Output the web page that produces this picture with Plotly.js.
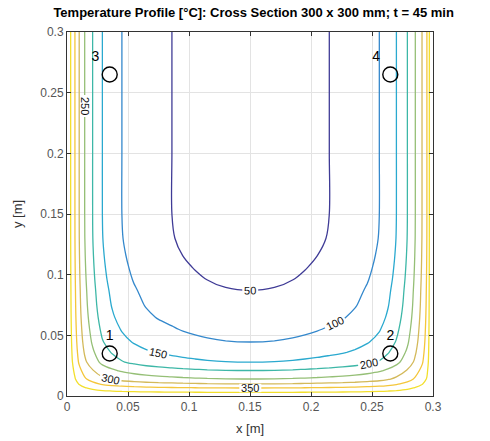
<!DOCTYPE html>
<html>
<head>
<meta charset="utf-8">
<script src="https://cdn.plot.ly/plotly-3.0.1.min.js"></script>
<style>html,body{margin:0;padding:0;background:#fff;}#chart{width:490px;height:441px;}</style>
</head>
<body>
<div id="chart"></div>
<script>
// Grid positions across the section (x, m) and temperature read along the top edge
const xNodes = [0, 0.003, 0.0065, 0.010, 0.0145, 0.021, 0.029, 0.037, 0.045, 0.055, 0.065, 0.075, 0.086, 0.095, 0.105, 0.115, 0.13, 0.15,
                0.17, 0.185, 0.195, 0.205, 0.215, 0.226, 0.236, 0.246, 0.256, 0.263, 0.270, 0.279, 0.2855, 0.291, 0.295, 0.297, 0.3];
const tAcross = [450, 400, 350, 300, 250, 200, 150, 122, 100, 82, 68, 58, 50, 43, 37, 32, 27, 25,
                 27, 32, 37, 43, 50, 58, 68, 82, 100, 122, 150, 200, 250, 300, 350, 400, 450];
// Grid positions up the section (y, m) and temperature
const yNodes = [0, 0.003, 0.0066, 0.010, 0.014, 0.021, 0.028, 0.036, 0.0445, 0.055, 0.065, 0.075, 0.087, 0.096, 0.106, 0.116, 0.13, 0.15, 0.2, 0.25, 0.3];
const tUp = [450, 400, 350, 300, 250, 200, 150, 122, 100, 82, 68, 58, 50, 43, 37, 32, 27, 25, 25, 25, 25];
const wallTemp = 450;
const coreTemp = 25;

// Contour levels and their colours
const levels = [50, 100, 150, 200, 250, 300, 350, 400];
const levelColors = ['#3f3b96', '#3488cc', '#2aa9cf', '#3db7a7', '#95bf76', '#d3b95a', '#f4c63a', '#f2df2c'];

// Measurement points
const ptX = [0.035, 0.265, 0.035, 0.265];
const ptY = [0.035, 0.035, 0.265, 0.265];
const ptLabels = ['1', '2', '3', '4'];

const tickVals = [0, 0.05, 0.1, 0.15, 0.2, 0.25, 0.3];
const tickText = ['0', '0.05', '0.1', '0.15', '0.2', '0.25', '0.3'];

// Build the temperature table (two-wall superposition of the read profiles)
const thX = tAcross.map(t => (t - wallTemp) / (coreTemp - wallTemp));
const thY = tUp.map(t => (t - wallTemp) / (coreTemp - wallTemp));
const z = yNodes.map((_, j) => xNodes.map((_, i) => wallTemp + (coreTemp - wallTemp) * thX[i] * thY[j]));

const cs = levelColors.map((c, k) => [k / (levelColors.length - 1), c]);

const contour = {
  type: 'contour',
  x: xNodes, y: yNodes, z: z,
  autocontour: false,
  contours: {
    start: levels[0], end: levels[levels.length - 1], size: levels[1] - levels[0],
    coloring: 'lines', showlabels: true,
    labelfont: {family: 'Liberation Sans, Arial, sans-serif', size: 11, color: '#111'}
  },
  colorscale: cs,
  showscale: false,
  line: {width: 1.3, smoothing: 1},
  hoverinfo: 'skip'
};

const pts = {
  type: 'scatter', mode: 'markers+text',
  x: ptX, y: ptY, text: ptLabels,
  textposition: ['top center', 'top center', 'top left', 'top left'],
  textfont: {family: 'Liberation Sans, Arial, sans-serif', size: 14, color: '#000'},
  marker: {symbol: 'circle-open', size: 15, color: '#000', line: {width: 1.4, color: '#000'}},
  showlegend: false, cliponaxis: false
};

const axisCommon = {
  range: [0, 0.3],
  tickvals: tickVals, ticktext: tickText,
  showgrid: true, gridcolor: '#e3e3e3', gridwidth: 1,
  zeroline: false,
  showline: true, mirror: 'ticks', linecolor: '#333', linewidth: 1,
  ticks: 'inside', ticklen: 4, tickcolor: '#333',
  tickfont: {family: 'Liberation Sans, Arial, sans-serif', size: 12, color: '#555'}
};

const layout = {
  width: 490, height: 441,
  margin: {l: 67, r: 57, t: 32, b: 45},
  paper_bgcolor: '#fff', plot_bgcolor: '#fff',
  showlegend: false,
  title: {
    text: '<b>Temperature Profile [°C]: Cross Section 300 x 300 mm; t = 45 min</b>',
    font: {family: 'Liberation Sans, Arial, sans-serif', size: 13, color: '#000'},
    x: 0.51, xref: 'paper', xanchor: 'center',
    y: 0.972, yref: 'container', yanchor: 'middle'
  },
  xaxis: Object.assign({}, axisCommon, {
    title: {text: 'x [m]', font: {family: 'Liberation Sans, Arial, sans-serif', size: 13, color: '#333'}, standoff: 10}
  }),
  yaxis: Object.assign({}, axisCommon, {
    title: {text: 'y [m]', font: {family: 'Liberation Sans, Arial, sans-serif', size: 13, color: '#333'}, standoff: 14}
  })
};

Plotly.newPlot('chart', [contour, pts], layout, {staticPlot: true, displayModeBar: false});
</script>
</body>
</html>
